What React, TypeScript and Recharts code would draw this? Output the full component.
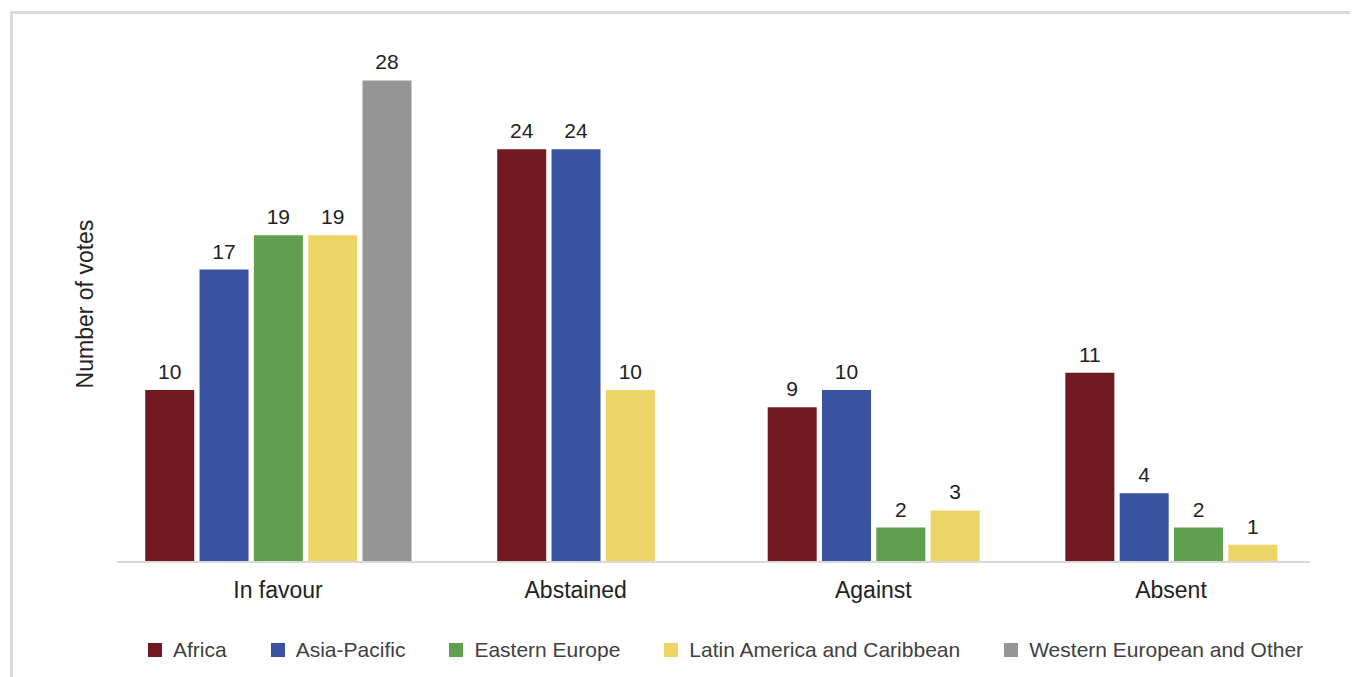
import { Bar, BarChart, Cell, LabelList, XAxis, YAxis } from "recharts";

const categories = ["In favour", "Abstained", "Against", "Absent"];
const seriesNames = ["Africa", "Asia-Pacific", "Eastern Europe", "Latin America and Caribbean", "Western European and Other"];
const seriesColors = ["#701920", "#3A53A0", "#5F9F4F", "#EDD467", "#959595"];

const africa = [10, 24, 9, 11];
const asiaPacific = [17, 24, 10, 4];
const easternEurope = [19, 0, 2, 2];
const latinAmerica = [19, 10, 3, 1];
const westernEurope = [28, 0, 0, 0];

const series = [africa, asiaPacific, easternEurope, latinAmerica, westernEurope];

// empty cells get no bar, so each group is packed and centred on its category
const PITCH = 0.1825;
const rows = categories.flatMap((_, i) => {
  const present = series.map((s, k) => ({ k, value: s[i] })).filter((d) => d.value > 0);
  const n = present.length;
  return present.map((d, j) => ({
    x: i + (j - (n - 1) / 2) * PITCH,
    value: d.value,
    color: seriesColors[d.k],
  }));
});

const FONT = "'Liberation Sans', Arial, sans-serif";

export default function App() {
  return (
    <div style={{ position: "relative", width: 1358, height: 677, margin: "-8px 0 0 -8px", overflow: "hidden", fontFamily: FONT }}>
      <div
        style={{
          position: "absolute",
          left: 10,
          top: 11,
          width: 2000,
          height: 2000,
          borderTop: "3px solid #d9d9d9",
          borderLeft: "3px solid #d9d9d9",
        }}
      />
      <div style={{ position: "absolute", left: 0, top: 0 }}>
        <BarChart width={1358} height={677} data={rows} margin={{ top: 46, right: 48, bottom: 0, left: 60 }}>
          <XAxis
            type="number"
            dataKey="x"
            domain={[-0.541, 3.467]}
            ticks={[0, 1, 2, 3]}
            tickFormatter={(i) => categories[i] ?? ""}
            height={115}
            axisLine={{ stroke: "#d9d9d9", strokeWidth: 2 }}
            tickLine={false}
            tickMargin={14}
            tick={{ fontSize: 23, fill: "#222", fontFamily: FONT }}
            allowDataOverflow
          />
          <YAxis
            domain={[0, 30]}
            width={57}
            tick={false}
            axisLine={false}
            tickLine={false}
            label={{ value: "Number of votes", angle: -90, position: "center", dx: -4, fontSize: 23, fill: "#222", fontFamily: FONT }}
          />
          <Bar dataKey="value" barSize={49} isAnimationActive={false}>
            {rows.map((r, i) => (
              <Cell key={i} fill={r.color} />
            ))}
            <LabelList dataKey="value" position="top" offset={11} style={{ fontSize: 21, fill: "#222", fontFamily: FONT }} />
          </Bar>
        </BarChart>
      </div>
      <div style={{ position: "absolute", left: 148, top: 638, display: "flex", gap: 44, alignItems: "center" }}>
        {seriesNames.map((name, k) => (
          <div key={name} style={{ display: "flex", alignItems: "center", gap: 11 }}>
            <span style={{ width: 14, height: 14, background: seriesColors[k], display: "inline-block" }} />
            <span style={{ fontSize: 21, color: "#404040", lineHeight: "24px" }}>{name}</span>
          </div>
        ))}
      </div>
    </div>
  );
}
